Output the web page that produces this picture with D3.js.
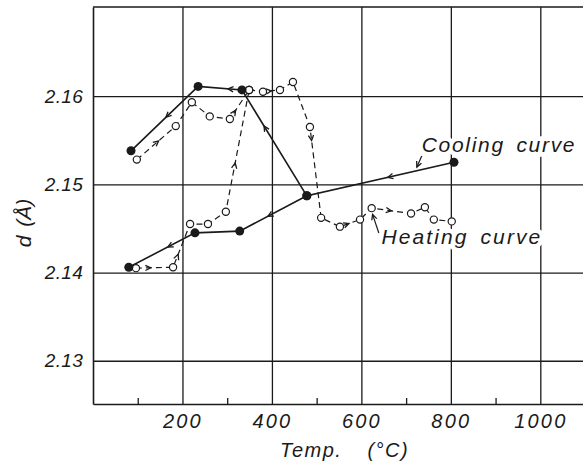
<!DOCTYPE html>
<html>
<head>
<meta charset="utf-8">
<script src="https://cdn.jsdelivr.net/npm/d3@7"></script>
<style>
  body { margin: 0; background: #fff; }
  svg text { font-family: "Liberation Sans", Arial, sans-serif; font-style: italic; fill: #1a1a1a; }
</style>
</head>
<body>
<div id="chart"></div>
<script>
// temperature (deg C) and lattice spacing d (A)
const coolUpperT = [807, 478, 333, 235, 85];
const coolUpperD = [2.1525, 2.1487, 2.1607, 2.1611, 2.1538];
const coolLowerT = [478, 328, 228, 80];
const coolLowerD = [2.1487, 2.1447, 2.1445, 2.1406];

const heatUpperT = [98, 185, 221, 261, 306, 349];
const heatUpperD = [2.1528, 2.1566, 2.1593, 2.1577, 2.1574, 2.1607];
const heatLowerT = [96, 179, 217, 257, 297, 349];
const heatLowerD = [2.1405, 2.1406, 2.1455, 2.1455, 2.1469, 2.1607];
const heatTailT = [349, 380, 418, 447, 485, 510, 552, 597, 623, 711, 742, 762, 802];
const heatTailD = [2.1607, 2.1605, 2.1607, 2.1616, 2.1565, 2.1462, 2.1452, 2.1460, 2.1473, 2.1467, 2.1474, 2.1460, 2.1458];

// [segment index, fraction along segment] where a direction arrow sits
const coolUpperArrows = [[0, 0.45], [1, 0.66], [2, 0.32], [3, 0.48]];
const coolLowerArrows = [[0, 0.58], [2, 0.41]];
const heatUpperArrows = [[0, 0.56], [4, 0.3]];
const heatLowerArrows = [[0, 0.4], [1, 0.3], [4, 0.4]];
const heatTailArrows = [[1, 0.5], [4, 0.15], [6, 0.45], [8, 0.5]];

const xGrid = [200, 400, 600, 800, 1000];
const xMinor = [100, 300, 500, 700, 900];
const yGrid = [2.13, 2.14, 2.15, 2.16];

const width = 583, height = 461;
const margin = { top: 7, left: 93, bottom: 57 };
const plotH = height - margin.top - margin.bottom;

const svg = d3.select('#chart').append('svg')
  .attr('width', width)
  .attr('height', height);

const x = d3.scaleLinear().domain([0, 1100]).range([margin.left, margin.left + 1100 * 0.4473]);
const y = d3.scaleLinear().domain([2.1251, 2.1701]).range([height - margin.bottom, margin.top]);

const ink = '#1a1a1a';

// grid + axes
svg.append('g')
  .attr('class', 'axis-x')
  .attr('transform', `translate(0, ${height - margin.bottom})`)
  .call(d3.axisBottom(x).tickValues(xGrid).tickSize(-plotH).tickSizeOuter(0).tickPadding(10).tickFormat(d3.format('d')));
svg.append('g')
  .attr('class', 'axis-y')
  .attr('transform', `translate(${margin.left}, 0)`)
  .call(d3.axisLeft(y).tickValues(yGrid).tickSize(-(width - margin.left)).tickSizeOuter(0).tickPadding(10).tickFormat(d3.format('.2f')));
svg.append('g')
  .attr('transform', `translate(0, ${height - margin.bottom})`)
  .call(d3.axisBottom(x).tickValues(xMinor).tickSize(-6).tickFormat(''))
  .select('.domain').remove();

svg.selectAll('.domain').attr('stroke', ink).attr('stroke-width', 1.6);
svg.selectAll('.tick line').attr('stroke', ink).attr('stroke-width', 1.3);
svg.selectAll('.tick text').attr('fill', ink)
  .style('font-family', '"Liberation Sans", Arial, sans-serif').style('font-style', 'italic');
svg.selectAll('.axis-x .tick text').attr('font-size', 20).attr('letter-spacing', 2.2);
svg.selectAll('.axis-y .tick text').attr('font-size', 19).attr('letter-spacing', 0.3);

// top border
svg.append('line')
  .attr('x1', margin.left).attr('x2', width)
  .attr('y1', margin.top).attr('y2', margin.top)
  .attr('stroke', ink).attr('stroke-width', 1.6);

// axis titles
svg.append('text')
  .attr('x', 280).attr('y', 457)
  .attr('font-size', 20)
  .attr('letter-spacing', 1.5)
  .attr('word-spacing', 18)
  .text('Temp. (°C)');
svg.append('text')
  .attr('transform', 'translate(31, 223) rotate(-90)')
  .attr('text-anchor', 'middle')
  .attr('font-size', 21)
  .attr('word-spacing', 3)
  .text('d (Å)');

// labels with a white halo that breaks the grid behind them
const label = (t, d, txt, ls) => svg.append('text')
  .attr('x', x(t)).attr('y', y(d))
  .attr('font-size', 21)
  .attr('letter-spacing', ls)
  .attr('word-spacing', 4)
  .attr('stroke', '#fff').attr('stroke-width', 9).attr('paint-order', 'stroke')
  .text(txt);
label(735, 2.15368, 'Cooling curve', 1.7);
label(645, 2.14321, 'Heating curve', 2.1);

const zip = (ts, ds) => ts.map((t, i) => [t, ds[i]]);
const line = d3.line().x(d => x(d[0])).y(d => y(d[1]));

function chevrons(pts, list, g) {
  list.forEach(([i, f]) => {
    const x0 = x(pts[i][0]), y0 = y(pts[i][1]);
    const x1 = x(pts[i + 1][0]), y1 = y(pts[i + 1][1]);
    const px = x0 + (x1 - x0) * f, py = y0 + (y1 - y0) * f;
    const a = Math.atan2(y1 - y0, x1 - x0);
    const s = 6, w = 0.45;
    const p1 = [px - s * Math.cos(a - w), py - s * Math.sin(a - w)];
    const p2 = [px - s * Math.cos(a + w), py - s * Math.sin(a + w)];
    g.append('path')
      .attr('d', `M${p1}L${px},${py}L${p2}`)
      .attr('fill', 'none').attr('stroke', ink).attr('stroke-width', 1.3);
  });
}

const lines = svg.append('g');
const heating = [
  [zip(heatUpperT, heatUpperD), heatUpperArrows],
  [zip(heatLowerT, heatLowerD), heatLowerArrows],
  [zip(heatTailT, heatTailD), heatTailArrows]
];
const cooling = [
  [zip(coolUpperT, coolUpperD), coolUpperArrows],
  [zip(coolLowerT, coolLowerD), coolLowerArrows]
];

heating.forEach(([pts, arr]) => {
  lines.append('path').datum(pts)
    .attr('d', line).attr('fill', 'none')
    .attr('stroke', ink).attr('stroke-width', 1.2).attr('stroke-dasharray', '6,4');
  chevrons(pts, arr, lines);
});
cooling.forEach(([pts, arr]) => {
  lines.append('path').datum(pts)
    .attr('d', line).attr('fill', 'none')
    .attr('stroke', ink).attr('stroke-width', 1.6);
  chevrons(pts, arr, lines);
});

// leader arrows for the labels
const leaders = [[[735, 2.15321], [724, 2.15196]], [[639, 2.14449], [625, 2.14660]]];
leaders.forEach(pts => {
  lines.append('path').datum(pts).attr('d', line).attr('stroke', ink).attr('stroke-width', 1.2);
  chevrons(pts, [[0, 1]], lines);
});

// markers
const heatPts = heating.flatMap(h => h[0]);
svg.append('g').selectAll('circle').data(heatPts).join('circle')
  .attr('cx', d => x(d[0])).attr('cy', d => y(d[1])).attr('r', 3.6)
  .attr('fill', '#fff').attr('stroke', ink).attr('stroke-width', 1.2);
const coolPts = cooling.flatMap(c => c[0]);
svg.append('g').selectAll('circle').data(coolPts).join('circle')
  .attr('cx', d => x(d[0])).attr('cy', d => y(d[1])).attr('r', 4.5)
  .attr('fill', ink);
</script>
</body>
</html>
